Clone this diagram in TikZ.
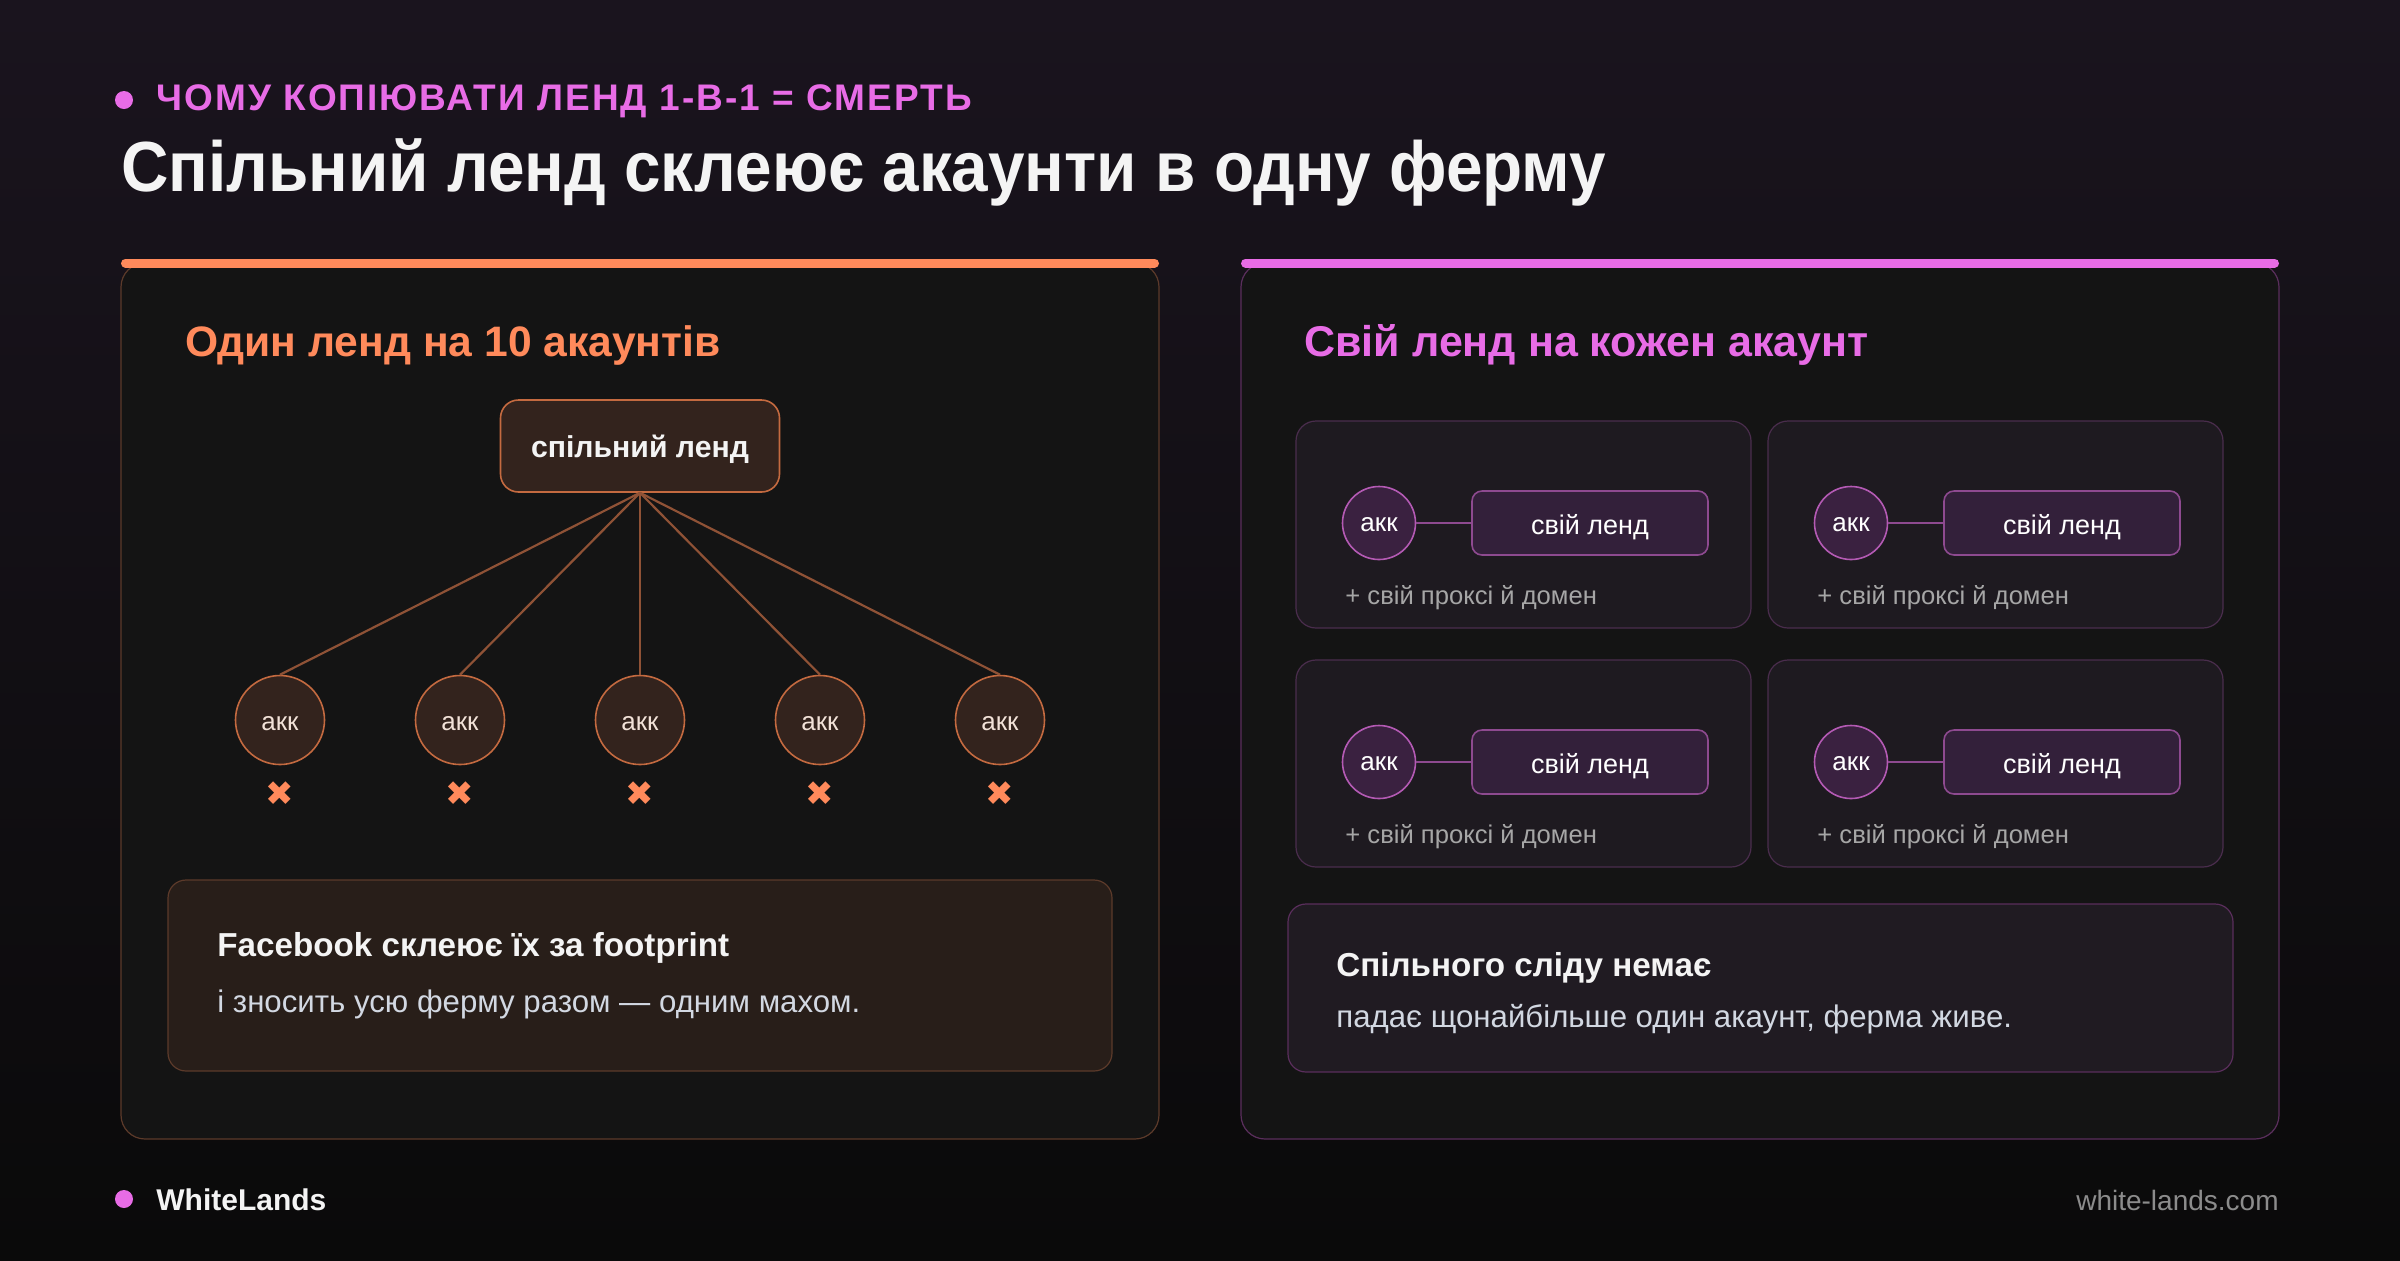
\documentclass[tikz,border=0pt]{standalone}
\usepackage{fontspec}
\setmainfont{Liberation Sans}
\newfontfamily\headfont[FakeStretch=0.925]{Liberation Sans}
\newfontfamily\symfont{DejaVu Sans}
\usetikzlibrary{positioning,calc}
\definecolor{bgtop}{HTML}{1A141E}
\definecolor{bgbot}{HTML}{0A0A0A}
\definecolor{panel}{HTML}{141414}
\definecolor{orng}{HTML}{FF8A5B}
\definecolor{magen}{HTML}{E86CE6}
\definecolor{title}{HTML}{F4F4F4}
\definecolor{body}{HTML}{D2D8E2}
\definecolor{muted}{HTML}{A6A6A6}
\definecolor{foot}{HTML}{8C8C8C}
% shared-lander side
\definecolor{obord}{HTML}{5C3A2A}
\definecolor{ofill}{HTML}{33231D}
\definecolor{oline}{HTML}{C46A40}
\definecolor{owire}{HTML}{8F5236}
\definecolor{onote}{HTML}{281E19}
\definecolor{otext}{HTML}{F2E2D8}
% own-lander side
\definecolor{pbord}{HTML}{5A2E5C}
\definecolor{pedge}{HTML}{4A2D4D}
\definecolor{pcard}{HTML}{1E1A20}
\definecolor{pfill}{HTML}{3A2140}
\definecolor{pbox}{HTML}{33203A}
\definecolor{pline}{HTML}{B45AB4}
\definecolor{pwire}{HTML}{8E4A90}
\definecolor{pnote}{HTML}{201B22}

\begin{document}
\begin{tikzpicture}[x=0.5pt,y=-0.5pt,
  acc/.style={circle,draw=oline,fill=ofill,line width=0.8pt,minimum size=44.5pt,inner sep=0pt,text height=10.5pt,text depth=0pt,text=otext,font=\fontsize{13}{15}\selectfont},
  wire/.style={owire,line width=1.1pt},
  cross/.style={text=orng,inner sep=0pt,font=\symfont\fontsize{17}{17}\selectfont},
  pacc/.style={circle,draw=pline,fill=pfill,line width=0.8pt,minimum size=36.5pt,inner sep=0pt,text height=8.5pt,text depth=0pt,text=white,font=\fontsize{13}{15}\selectfont},
  pland/.style={rectangle,rounded corners=5pt,draw=pwire,fill=pbox,line width=0.8pt,minimum width=118pt,minimum height=32pt,inner sep=0pt,text height=11pt,text depth=0pt,text=white,font=\fontsize{13.5}{15}\selectfont},
  notehead/.style={anchor=base west,inner sep=0pt,text=title,font=\fontsize{16.6}{19}\selectfont\bfseries},
  note/.style={anchor=base west,inner sep=0pt,text=body,font=\fontsize{15.6}{18}\selectfont},
]
\useasboundingbox (0,0) rectangle (2400,1260);
\shade[top color=bgtop,bottom color=bgbot] (0,0) rectangle (2400,1260);

% header
\fill[magen] (124,100) circle (4.5pt);
\node[anchor=base west,inner sep=0pt,text=magen,font=\fontsize{18.5}{20}\selectfont\bfseries\addfontfeature{LetterSpace=5.5}] (kicker) at (156,110) {ЧОМУ КОПІЮВАТИ ЛЕНД 1-В-1 = СМЕРТЬ};
\node[anchor=base west,inner sep=0pt,text=title,font=\headfont\fontsize{35.5}{40}\selectfont\bfseries] (headline) at (121,191) {Спільний ленд склеює акаунти в одну ферму};

% left panel: one lander
\draw[obord,fill=panel,line width=0.6pt,rounded corners=12pt] (121,263) rectangle (1159,1139);
\draw[orng,line width=4.5pt,line cap=round] (125.5,263) -- (1154.5,263);
\node[anchor=base west,inner sep=0pt,text=orng,font=\fontsize{21.3}{24}\selectfont\bfseries] (lhead) at (185,356) {Один ленд на 10 акаунтів};
\node[rectangle,rounded corners=9pt,draw=oline,fill=ofill,line width=0.8pt,minimum width=139.5pt,minimum height=46pt,text height=11.5pt,text depth=0pt,text=title,font=\fontsize{15.1}{17}\selectfont\bfseries] (land) at (640,446) {спільний ленд};
\foreach \i/\x in {1/280,2/460,3/640,4/820,5/1000} {
  \node[acc] (acc\i) at (\x,720) {акк};
  \node[cross] (cross\i) at (\x,794) {✖};
  \draw[wire] (land.south) -- (acc\i.north);
}
\draw[obord,fill=onote,line width=0.6pt,rounded corners=9pt] (168,880) rectangle (1112,1071);
\node[notehead] (lnote) at (217,956) {Facebook склеює їх за footprint};
\node[note] (lnote2) at (217,1012) {і зносить усю ферму разом — одним махом.};

% right panel: own lander per account
\draw[pbord,fill=panel,line width=0.6pt,rounded corners=12pt] (1241,263) rectangle (2279,1139);
\draw[magen,line width=4.5pt,line cap=round] (1245.5,263) -- (2274.5,263);
\node[anchor=base west,inner sep=0pt,text=magen,font=\fontsize{21.5}{24}\selectfont\bfseries] (rhead) at (1304,356) {Свій ленд на кожен акаунт};
\foreach \rw/\y in {1/523,2/762}
  \foreach \cl/\x in {1/0,2/472} {
    \draw[pedge,fill=pcard,line width=0.6pt,rounded corners=10pt] (1296+\x,\y-102) rectangle (1751+\x,\y+105);
    \node[pacc] (pacc\rw\cl) at (1379+\x,\y) {акк};
    \node[pland] (pland\rw\cl) at (1590+\x,\y) {свій ленд};
    \draw[pwire,line width=1.4pt] (pacc\rw\cl) -- (pland\rw\cl);
    \node[anchor=base west,inner sep=0pt,text=muted,font=\fontsize{12.8}{14}\selectfont] (pnote\rw\cl) at (1345+\x,\y+81) {+ свій проксі й домен};
  }
\draw[pbord,fill=pnote,line width=0.6pt,rounded corners=9pt] (1288,904) rectangle (2233,1072);
\node[notehead] (rnote) at (1336,976) {Спільного сліду немає};
\node[note] (rnote2) at (1336,1027) {падає щонайбільше один акаунт, ферма живе.};

% footer
\fill[magen] (124,1199) circle (4.5pt);
\node[anchor=base west,inner sep=0pt,text=title,font=\fontsize{15}{18}\selectfont\bfseries] (brand) at (156,1210) {WhiteLands};
\node[anchor=base east,inner sep=0pt,text=foot,font=\fontsize{14}{18}\selectfont] (site) at (2279,1210) {white-lands.com};
\end{tikzpicture}
\end{document}
